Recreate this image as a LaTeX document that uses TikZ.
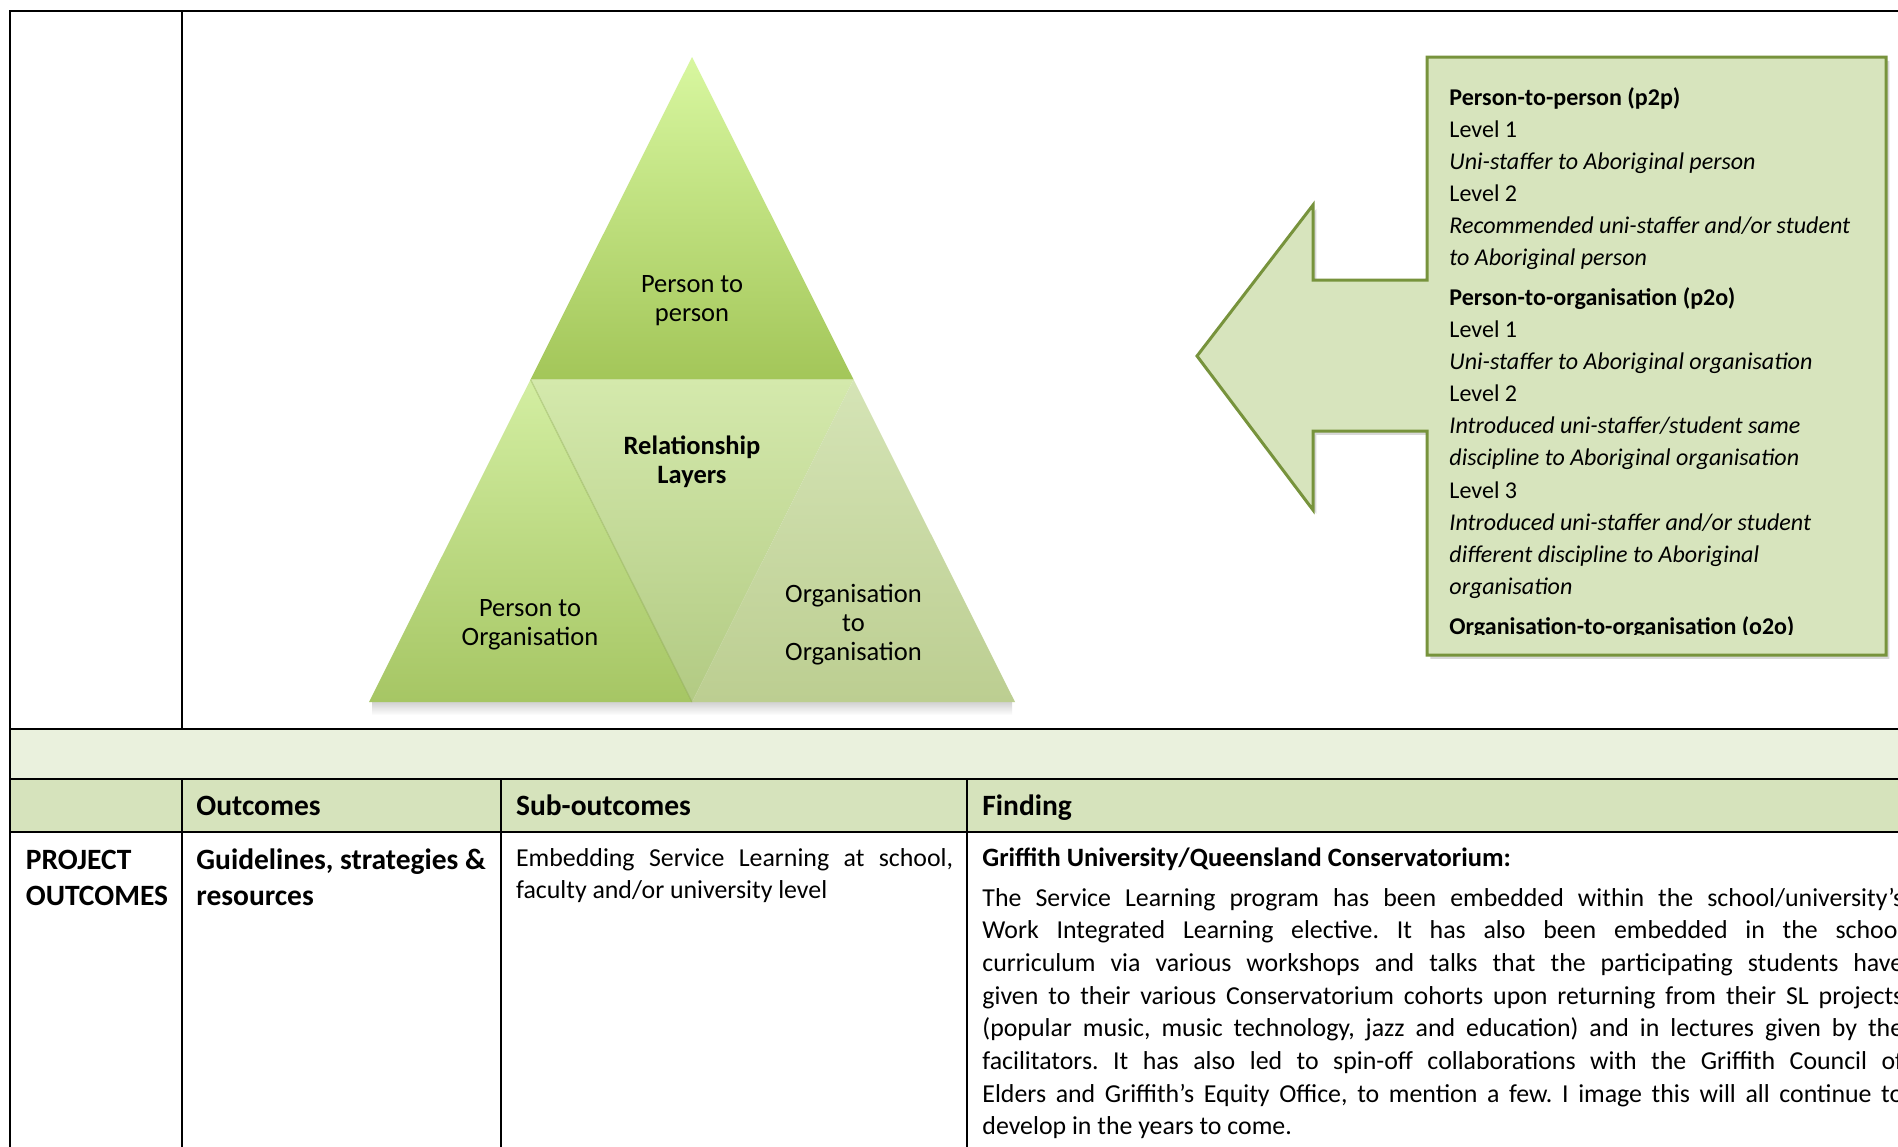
\documentclass[tikz,border=0pt]{standalone}
\usepackage{fontspec}
\setmainfont{Carlito}
\usetikzlibrary{shadows}
\definecolor{bandfill}{HTML}{EAF1DD}
\definecolor{hdrfill}{HTML}{D6E3BC}
\definecolor{arrowfill}{HTML}{D7E4BD}
\definecolor{arrowline}{HTML}{77933C}
\definecolor{topA}{HTML}{D8F7A0}
\definecolor{topB}{HTML}{A3C659}
\definecolor{blA}{HTML}{D3EEA2}
\definecolor{blB}{HTML}{A6C664}
\definecolor{midA}{HTML}{D4E9AC}
\definecolor{midB}{HTML}{B2CA83}
\definecolor{brA}{HTML}{D5E4B6}
\definecolor{brB}{HTML}{BCCE91}
\begin{document}
\frenchspacing
\begin{tikzpicture}[x=0.468pt,y=-0.468pt,
  tablerule/.style={line width=0.95pt,black},
  tritext/.style={align=center,inner sep=0pt,font=\fontsize{12.4}{13.6}\selectfont},
  hdrtext/.style={anchor=base west,inner sep=0pt,font=\fontsize{13.8}{16.9}\selectfont\bfseries},
  bodytext/.style={anchor=base west,inner sep=0pt,font=\fontsize{12.1}{15.3}\selectfont},
  boxtext/.style={anchor=base west,inner sep=0pt,font=\fontsize{11.25}{15}\selectfont}]
\useasboundingbox (0,0) rectangle (1898,1146);
\clip (0,0) rectangle (1898,1146);
\fill[white] (0,0) rectangle (1898,1146);

% table fills
\fill[bandfill] (10,729) rectangle (1910,779);
\fill[hdrfill] (10,779) rectangle (1910,832);

% table rules
\draw[tablerule] (1910,11) -- (10,11) -- (10,1160);
\draw[tablerule] (182,11) -- (182,729);
\draw[tablerule] (10,729) -- (1910,729);
\draw[tablerule] (10,779) -- (1910,779);
\draw[tablerule] (10,832) -- (1910,832);
\draw[tablerule] (182,779) -- (182,1160);
\draw[tablerule] (501,779) -- (501,1160);
\draw[tablerule] (967,779) -- (967,1160);

% triangle shadow
\shade[top color=black!22, bottom color=white, opacity=0.8] (372,702) rectangle (1012,715);

% triangles
\shade[top color=topA, bottom color=topB] (692,57) -- (853.5,379.5) -- (530.5,379.5) -- cycle;
\shade[top color=midA, bottom color=midB] (530.5,379.5) -- (853.5,379.5) -- (692,702) -- cycle;
\shade[top color=blA, bottom color=blB] (530.5,379.5) -- (692,702) -- (369,702) -- cycle;
\shade[top color=brA, bottom color=brB] (853.5,379.5) -- (1015,702) -- (692,702) -- cycle;
\draw[line width=0.6pt, color=topB!80!black, opacity=0.35] (530.5,379.5) -- (692,702);

\node[tritext] (pp) at (692,301) {Person to\\person};
\node[tritext,font=\fontsize{12.4}{13.6}\selectfont\bfseries] (rl) at (692,462) {Relationship\\Layers};
\node[tritext] (po) at (530,625) {Person to\\Organisation};
\node[tritext] (oo) at (853.5,625) {Organisation\\to\\Organisation};

% arrow callout
\draw[line width=1.4pt, draw=arrowline, fill=arrowfill,
  drop shadow={opacity=0.3, shadow xshift=1.6pt, shadow yshift=-1.8pt}]
  (1427,57) -- (1886,57) -- (1886,655) -- (1427,655) -- (1427,431) -- (1313,431)
  -- (1313,510) -- (1197,356) -- (1313,205) -- (1313,280) -- (1427,280) -- cycle;

\begin{scope}
\clip (1427,57) rectangle (1886,634);
\node[boxtext] (levels) at (1449,105.5) {\parbox[t]{230pt}{\raggedright
\textbf{Person-to-person (p2p)}\\
Level 1\\
\textit{Uni-staffer to Aboriginal person}\\
Level 2\\
\textit{Recommended uni-staffer and/or student}\\
\textit{to Aboriginal person}\\[3.7pt]
\textbf{Person-to-organisation (p2o)}\\
Level 1\\
\textit{Uni-staffer to Aboriginal organisation}\\
Level 2\\
\textit{Introduced uni-staffer/student same}\\
\textit{discipline to Aboriginal organisation}\\
Level 3\\
\textit{Introduced uni-staffer and/or student}\\
\textit{different discipline to Aboriginal}\\
\textit{organisation}\\[3.7pt]
\textbf{Organisation-to-organisation (o2o)}}};
\end{scope}

% header row
\node[hdrtext] (hout) at (196,815.5) {Outcomes};
\node[hdrtext] (hsub) at (515.7,815.5) {Sub-outcomes};
\node[hdrtext] (hfind) at (982,815.5) {Finding};

% body row
\node[hdrtext] (proj) at (25.4,869) {\parbox[t]{150pt}{\raggedright PROJECT\\OUTCOMES}};
\node[hdrtext] (guide) at (196,869) {\parbox[t]{150pt}{\raggedright Guidelines, strategies \&\\resources}};
\node[bodytext] (embed) at (515.7,866) {\parbox[t]{204.5pt}{\hyphenpenalty=10000 Embedding Service Learning at school,\linebreak faculty and/or university level}};
\node[bodytext,font=\fontsize{12.4}{15.3}\selectfont\bfseries] (griff) at (982,866) {Griffith University/Queensland Conservatorium:};
\node[bodytext] (para) at (982,906) {\parbox[t]{431pt}{\hyphenpenalty=10000
The Service Learning program has been embedded within the school/university’s\linebreak
Work Integrated Learning elective. It has also been embedded in the school\linebreak
curriculum via various workshops and talks that the participating students have\linebreak
given to their various Conservatorium cohorts upon returning from their SL projects\linebreak
(popular music, music technology, jazz and education) and in lectures given by the\linebreak
facilitators. It has also led to spin-off collaborations with the Griffith Council of\linebreak
Elders and Griffith’s Equity Office, to mention a few. I image this will all continue to\linebreak
develop in the years to come.}};
\end{tikzpicture}
\end{document}
